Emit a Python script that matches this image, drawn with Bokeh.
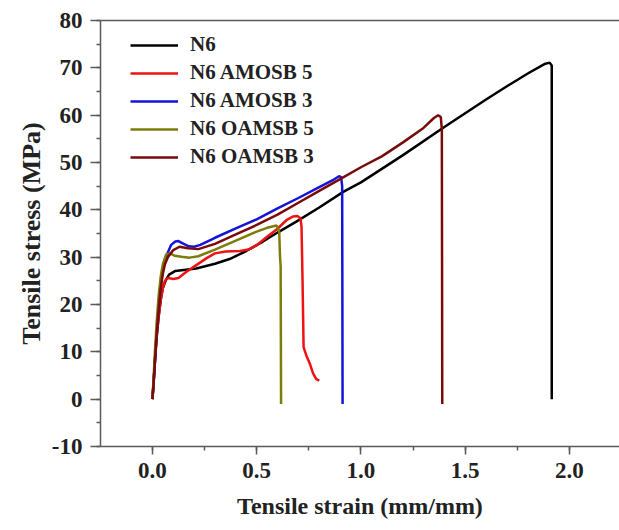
from bokeh.plotting import figure
from bokeh.models import (SingleIntervalTicker, NumeralTickFormatter, Range1d, Legend, LegendItem,
                          LinearAxis, FixedTicker)
from bokeh.embed import file_html
from bokeh.resources import INLINE

# ---- data ----
n6_x = [0, 0.005, 0.012, 0.02, 0.03, 0.04, 0.05, 0.065, 0.08, 0.11, 0.15, 0.21, 0.3, 0.37, 0.45, 0.53,
        0.6, 0.69, 0.8, 0.915, 1.0, 1.2, 1.4, 1.6, 1.7, 1.8, 1.88, 1.905, 1.915, 1.915]
n6_y = [0, 3, 8, 13, 17.5, 21, 23.5, 25.2, 26.3, 27.1, 27.3, 27.6, 28.6, 29.6, 31.3, 33.3,
        35.2, 37.5, 40.5, 43.8, 45.8, 51.5, 57.5, 63.3, 66.1, 68.8, 70.8, 71.1, 70.5, 0]

am5_x = [0, 0.005, 0.012, 0.02, 0.03, 0.04, 0.05, 0.06, 0.075, 0.1, 0.125, 0.16, 0.2, 0.26, 0.3, 0.35,
         0.42, 0.46, 0.5, 0.55, 0.6, 0.645, 0.675, 0.695, 0.71, 0.715, 0.72, 0.725, 0.74, 0.755, 0.77,
         0.785, 0.8]
am5_y = [0, 3, 8, 13, 17.5, 21, 23.5, 25, 25.6, 25.4, 25.6, 26.8, 28, 29.8, 30.8, 31.2,
         31.3, 31.6, 32.5, 34.3, 36, 37.9, 38.6, 38.7, 38.2, 36.5, 25, 11, 9, 7.5, 5.5,
         4.3, 3.9]

am3_x = [0, 0.005, 0.012, 0.02, 0.03, 0.04, 0.05, 0.06, 0.074, 0.09, 0.11, 0.125, 0.15, 0.175, 0.2,
         0.23, 0.3, 0.4, 0.5, 0.6, 0.7, 0.8, 0.87, 0.895, 0.905, 0.91, 0.912]
am3_y = [0, 3, 8, 14, 19.5, 24, 27.5, 29.5, 31, 32.6, 33.3, 33.4, 32.8, 32.3, 32.2,
         32.6, 34.1, 36.1, 38, 40.3, 42.5, 44.8, 46.4, 47.1, 46.9, 45, -1]

oa5_x = [0, 0.005, 0.012, 0.02, 0.03, 0.04, 0.05, 0.066, 0.085, 0.106, 0.14, 0.178, 0.22, 0.3, 0.4,
         0.5, 0.55, 0.595, 0.608, 0.612, 0.615, 0.617]
oa5_y = [0, 4, 10, 16, 22, 26, 28.5, 30.6, 30.8, 30.3, 30.1, 29.9, 30.2, 31.6, 33.5,
         35.4, 36.2, 36.7, 35.5, 30, 28, -1]

oa3_x = [0, 0.005, 0.012, 0.02, 0.03, 0.04, 0.05, 0.06, 0.074, 0.1, 0.13, 0.17, 0.22, 0.3, 0.4, 0.5,
         0.6, 0.7, 0.8, 0.9, 1.0, 1.1, 1.2, 1.3, 1.35, 1.37, 1.383, 1.388, 1.39]
oa3_y = [0, 3, 8, 13.5, 19, 23.5, 26.5, 28.5, 30, 31.5, 32.2, 31.9, 31.7, 32.8, 34.8, 36.8,
         39, 41.5, 44, 46.5, 49, 51.3, 54.2, 57.3, 59.4, 60, 59.6, 57, -1]

series_names = ["N6", "N6 AMOSB 5", "N6 AMOSB 3", "N6 OAMSB 5", "N6 OAMSB 3"]
series_colors = ["#000000", "#ee1212", "#1414d8", "#7c7c08", "#7a0a0a"]
series_x = [n6_x, am5_x, am3_x, oa5_x, oa3_x]
series_y = [n6_y, am5_y, am3_y, oa5_y, oa3_y]

FONT = "Liberation Serif"
AXIS_GRAY = "#5a5a5a"

p = figure(width=619, height=522, output_backend="svg", toolbar_location=None,
           x_range=Range1d(-0.249, 2.24), y_range=Range1d(-10, 80),
           min_border_left=100, min_border_top=20, min_border_bottom=76, min_border_right=0)

p.grid.visible = False
p.outline_line_color = None
p.background_fill_color = "white"

xa = p.below[0]
ya = p.left[0]

renderers = []
for xs, ys, c in zip(series_x, series_y, series_colors):
    r = p.line(xs, ys, line_color=c, line_width=2.5)
    renderers.append(r)

# top border line (right border lies outside the picture in the reference)
top_axis = LinearAxis(ticker=FixedTicker(ticks=[], minor_ticks=[]), axis_line_color=AXIS_GRAY,
                      axis_line_width=1.5, major_tick_line_color=None, minor_tick_line_color=None,
                      major_label_text_alpha=0)
p.add_layout(top_axis, "above")

# legend
items = [LegendItem(label=n, renderers=[r]) for n, r in zip(series_names, renderers)]
legend = Legend(items=items, location=(30, 277), margin=0, padding=0,
                border_line_alpha=0, background_fill_alpha=0,
                glyph_width=48, glyph_height=20, label_height=20, spacing=3,
                label_standoff=12, label_text_font=FONT, label_text_font_style="bold",
                label_text_font_size="21px", label_text_color="#222222")
p.add_layout(legend)

# axes
xa.ticker = SingleIntervalTicker(interval=0.5, num_minor_ticks=2)
ya.ticker = SingleIntervalTicker(interval=10, num_minor_ticks=2)
xa.formatter = NumeralTickFormatter(format="0.0")
ya.formatter = NumeralTickFormatter(format="0")

for ax in (xa, ya):
    ax.axis_line_color = AXIS_GRAY
    ax.axis_line_width = 1.5
    ax.major_tick_line_color = AXIS_GRAY
    ax.minor_tick_line_color = AXIS_GRAY
    ax.major_tick_line_width = 1.5
    ax.minor_tick_line_width = 1.5
    ax.major_tick_in = 0
    ax.minor_tick_in = 0
    ax.minor_tick_out = 4
    ax.major_label_text_font = FONT
    ax.major_label_text_font_style = "bold"
    ax.major_label_text_font_size = "23px"
    ax.major_label_text_color = "#222222"
    ax.axis_label_text_font = FONT
    ax.axis_label_text_font_style = "bold"
    ax.axis_label_text_color = "#222222"

xa.major_tick_out = 8
ya.major_tick_out = 10
xa.axis_label = "Tensile strain (mm/mm)"
ya.axis_label = "Tensile stress (MPa)"
xa.axis_label_text_font_size = "24px"
ya.axis_label_text_font_size = "26px"
xa.major_label_standoff = 8
ya.major_label_standoff = 8
xa.axis_label_standoff = 12
ya.axis_label_standoff = 3

open("out.html", "w").write(file_html(p, INLINE))
